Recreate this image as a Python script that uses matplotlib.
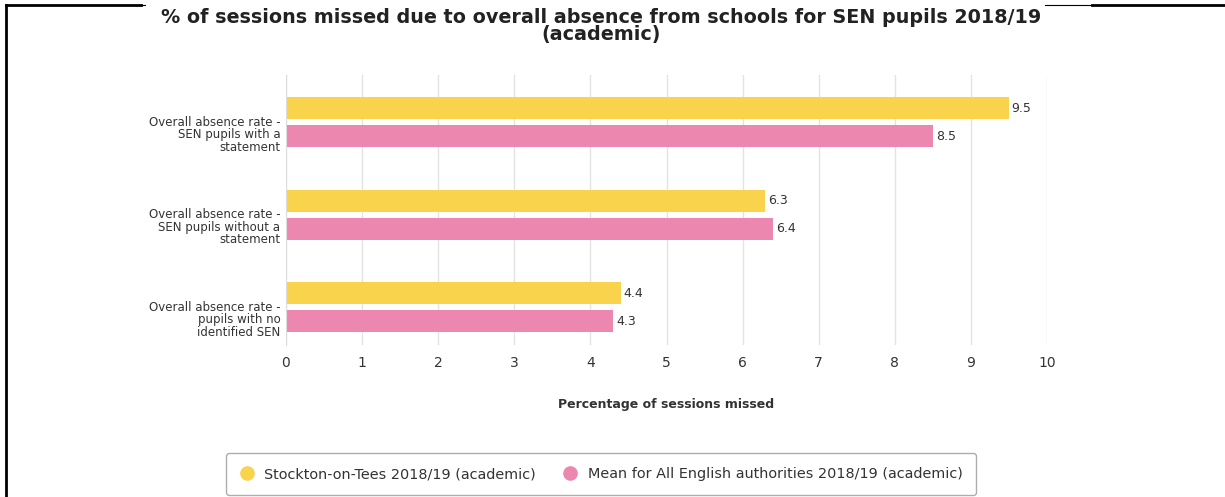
import numpy as np
import matplotlib.pyplot as plt
from matplotlib.lines import Line2D

categories = ["Overall absence rate -\nSEN pupils with a\nstatement",
              "Overall absence rate -\nSEN pupils without a\nstatement",
              "Overall absence rate -\npupils with no\nidentified SEN"]
stockton = [9.5, 6.3, 4.4]
england = [8.5, 6.4, 4.3]
series_names = ["Stockton-on-Tees 2018/19 (academic)",
                "Mean for All English authorities 2018/19 (academic)"]
yellow = "#f9d34c"
pink = "#ec87b0"

fig = plt.figure(figsize=(12.25, 4.97), dpi=100)
ax = fig.add_axes([286 / 1225, 1 - 345 / 497, (1047 - 286) / 1225, (345 - 75) / 497])

y = np.arange(len(categories))
h = 0.238
off = 0.151
b1 = ax.barh(y - off, stockton, height=h, color=yellow, zorder=2)
b2 = ax.barh(y + off, england, height=h, color=pink, zorder=2)
for bars in (b1, b2):
    ax.bar_label(bars, fmt="%.1f", padding=2, fontsize=9, color="#333333")

ax.set_ylim(2.41, -0.51)
ax.set_xlim(0, 10)
ax.set_xticks(range(0, 11))
# category labels sit slightly below the group centre in the original
ax.set_yticks(y + 0.125)
ax.set_yticklabels(categories, fontsize=8.5, color="#333333", linespacing=0.95)
ax.tick_params(axis="y", length=0, pad=4)
ax.tick_params(axis="x", length=0, pad=8, labelsize=10, colors="#333333")
ax.grid(axis="x", color="#e3e3e3", linewidth=1, zorder=0)
for s in ["top", "right", "bottom"]:
    ax.spines[s].set_visible(False)
ax.spines["left"].set_color("#dddddd")
ax.set_xlabel("Percentage of sessions missed", fontsize=9, fontweight="bold",
              color="#333333", labelpad=20)

fig.text(0.491, 1 - 26 / 497, "% of sessions missed due to overall absence from schools for SEN pupils 2018/19\n(academic)",
         ha="center", va="center", fontsize=13.8, fontweight="bold", color="#222222", linespacing=0.92)

# page frame lines
fig.add_artist(Line2D([6 / 1225, 6 / 1225], [0, 1 - 5 / 497], color="black", lw=2))
fig.add_artist(Line2D([6 / 1225, 141 / 1225], [1 - 5 / 497, 1 - 5 / 497], color="black", lw=2))
fig.add_artist(Line2D([141 / 1225, 145 / 1225], [1 - 5 / 497, 1 - 5 / 497], color="black", lw=0.8))
fig.add_artist(Line2D([1045 / 1225, 1092 / 1225], [1 - 5 / 497, 1 - 5 / 497], color="black", lw=0.8))
fig.add_artist(Line2D([1092 / 1225, 1], [1 - 5 / 497, 1 - 5 / 497], color="black", lw=2))

handles = [Line2D([], [], marker="o", ls="", markersize=9.5, color=yellow),
           Line2D([], [], marker="o", ls="", markersize=9.5, color=pink)]
fig.legend(handles, series_names, loc="center", bbox_to_anchor=(601 / 1225, 1 - 474 / 497),
           ncol=2, fontsize=10.4, frameon=True, edgecolor="#999999", fancybox=True,
           handlelength=1.0, handletextpad=0.7, columnspacing=1.9, borderpad=0.95,
           labelcolor="#333333")

fig.savefig("out.png", dpi=100)
